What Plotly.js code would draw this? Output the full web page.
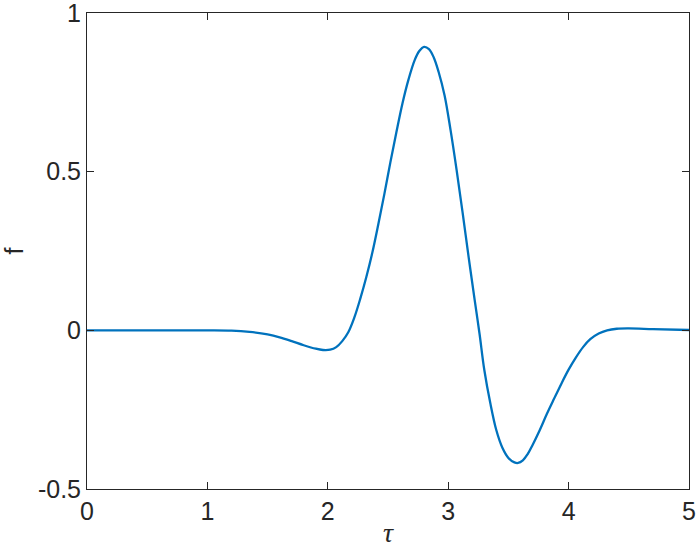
<!DOCTYPE html>
<html>
<head>
<meta charset="utf-8">
<script src="https://cdn.plot.ly/plotly-3.0.1.min.js"></script>
<style>html,body{margin:0;padding:0;background:#fff;}#chart{width:698px;height:548px;}</style>
</head>
<body>
<div id="chart"></div>
<script>
var tau = [0, 0.5, 1.0, 1.2, 1.35, 1.5, 1.6, 1.7, 1.8, 1.9, 1.96, 2.02, 2.07, 2.12, 2.17, 2.22, 2.27, 2.32, 2.37, 2.42, 2.47, 2.52, 2.57, 2.62, 2.67, 2.72, 2.76, 2.80, 2.84, 2.88, 2.92, 2.97, 3.02, 3.07, 3.12, 3.17, 3.22, 3.26, 3.30, 3.35, 3.40, 3.45, 3.50, 3.55, 3.58, 3.62, 3.66, 3.70, 3.76, 3.82, 3.88, 3.94, 4.00, 4.06, 4.12, 4.18, 4.25, 4.32, 4.40, 4.50, 4.70, 5.0];
var f = [0, 0, 0, -0.001, -0.005, -0.013, -0.022, -0.034, -0.047, -0.058, -0.062, -0.061, -0.053, -0.034, -0.006, 0.040, 0.100, 0.168, 0.245, 0.335, 0.430, 0.530, 0.625, 0.715, 0.790, 0.850, 0.880, 0.893, 0.886, 0.860, 0.815, 0.740, 0.630, 0.505, 0.370, 0.230, 0.095, -0.010, -0.125, -0.230, -0.315, -0.370, -0.402, -0.416, -0.418, -0.410, -0.390, -0.362, -0.315, -0.263, -0.215, -0.168, -0.124, -0.086, -0.053, -0.028, -0.010, 0.000, 0.005, 0.006, 0.004, 0.001];
var yTickVals = [-0.5, 0, 0.5, 1];
var yTickText = ['-0.5', '0', '0.5', '1'];
var xTickVals = [0, 1, 2, 3, 4, 5];
var xTickText = ['0', '1', '2', '3', '4', '5'];

var trace = {
  x: tau, y: f, type: 'scatter', mode: 'lines',
  line: {color: '#0072BD', width: 2.3, shape: 'spline', smoothing: 1},
  hoverinfo: 'skip', cliponaxis: true
};
var axisCommon = {
  showgrid: false, zeroline: false, showline: true, linecolor: '#262626', linewidth: 1,
  mirror: 'ticks', ticks: 'inside', ticklen: 7, tickwidth: 1, tickcolor: '#262626',
  ticklabeloverflow: 'allow',
  tickfont: {family: 'Liberation Sans, Arial, sans-serif', size: 25, color: '#262626'}
};
var layout = {
  width: 698, height: 548,
  margin: {l: 87, r: 9, t: 13, b: 59},
  paper_bgcolor: '#ffffff', plot_bgcolor: '#ffffff',
  showlegend: false,
  xaxis: Object.assign({}, axisCommon, {
    range: [0, 5.00001], tickmode: 'array', tickvals: xTickVals, ticktext: xTickText,
    title: {text: '<i>τ</i>', font: {family: 'Liberation Serif, serif', size: 28, color: '#262626'}, standoff: 12}
  }),
  yaxis: Object.assign({}, axisCommon, {
    range: [-0.50001, 1.00001], tickmode: 'array', tickvals: yTickVals, ticktext: yTickText,
    title: {text: 'f', font: {family: 'Liberation Sans, Arial, sans-serif', size: 25, color: '#262626'}, standoff: 12}
  })
};
Plotly.newPlot('chart', [trace], layout, {displayModeBar: false, staticPlot: true});
</script>
</body>
</html>
